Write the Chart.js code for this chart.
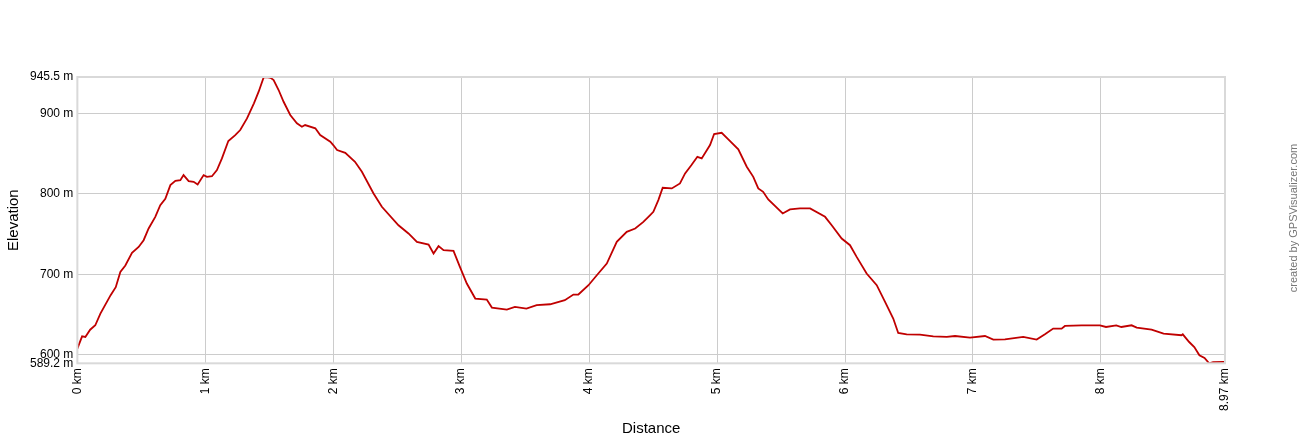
<!DOCTYPE html>
<html>
<head>
<meta charset="utf-8">
<script src="https://cdn.jsdelivr.net/npm/chart.js@4"></script>
<style>
  html, body { margin: 0; padding: 0; background: #fff; }
  #wrap { width: 1300px; height: 440px; }
</style>
</head>
<body>
<div id="wrap"><canvas id="profileChart"></canvas></div>
<script>
const distKm = [
    0, 0.037, 0.0625, 0.1, 0.14, 0.18, 0.26, 0.3, 0.336, 0.375, 0.427, 0.479, 0.518, 0.557,
    0.609, 0.648, 0.6875, 0.727, 0.766, 0.805, 0.83, 0.87, 0.909, 0.94, 0.987, 1.013, 1.052,
    1.091, 1.13, 1.18, 1.234, 1.273, 1.326, 1.38, 1.417, 1.456, 1.48, 1.51, 1.534, 1.573,
    1.612, 1.664, 1.716, 1.755, 1.78, 1.86, 1.898, 1.977, 2.0, 2.03, 2.094, 2.17, 2.224,
    2.315, 2.38, 2.51, 2.588, 2.654, 2.745, 2.784, 2.823, 2.862, 2.94, 2.99, 3.044, 3.11,
    3.2, 3.24, 3.357, 3.42, 3.51, 3.59, 3.695, 3.81, 3.877, 3.916, 3.995, 4.06, 4.138,
    4.216, 4.294, 4.36, 4.424, 4.477, 4.502, 4.541, 4.575, 4.646, 4.71, 4.75, 4.8, 4.846,
    4.88, 4.945, 4.977, 5.036, 5.088, 5.166, 5.232, 5.283, 5.322, 5.36, 5.4, 5.513, 5.57,
    5.648, 5.727, 5.844, 5.896, 5.974, 6.039, 6.091, 6.169, 6.248, 6.313, 6.377, 6.416,
    6.482, 6.586, 6.69, 6.795, 6.86, 6.977, 7.094, 7.159, 7.25, 7.393, 7.498, 7.5625,
    7.627, 7.693, 7.719, 7.849, 7.992, 8.04, 8.12, 8.16, 8.24, 8.28, 8.396, 8.49, 8.63,
    8.64, 8.69, 8.73, 8.77, 8.81, 8.846, 8.877, 8.955, 8.97
];
const elevM = [
    607.5, 622.8, 622, 631, 636.5, 651, 674, 684, 703, 711, 726.6, 734, 742.4, 757,
    771.5, 786, 794, 811, 816.3, 817, 823.4, 816, 815, 811.8, 823.4, 821.3, 822,
    829.6, 844.2, 865.8, 873.2, 879.5, 894, 912.7, 927.2, 945, 945.5, 944.5, 941.7, 929.3,
    914.7, 898.2, 887.8, 883.6, 885.7, 881.6, 873.2, 864.9, 860.8, 854.6, 851.2, 840, 827.5,
    800.6, 784, 761, 750.8, 740.3, 737, 725.9, 735, 730, 729.1, 709.2, 688.5, 669.8,
    668.6, 658.6, 656.1, 659.4, 657.3, 661.5, 662.7, 667.7, 674.8, 674.8, 686.4, 698.8, 713.4,
    740.3, 752.8, 757, 765.2, 773.6, 777.7, 792.3, 807.6, 806.8, 813, 825.5, 835.9, 846.2,
    844.2, 860.8, 874.5, 876.1, 867.9, 855.4, 833.8, 821.3, 806.8, 802.6, 793.1, 775.7, 780.7,
    781.9, 781.9, 771.5, 761.1, 744.5, 736.2, 721.6, 700.9, 686.4, 665.6, 644.9, 627,
    625.3, 625, 622.8, 622, 623.2, 621.2, 623.2, 618.7, 619.1, 622, 618.7, 625.3,
    632.4, 632.4, 635.7, 636.5, 636.5, 634.4, 636.5, 634.4, 636.5, 633.7, 631.2, 626.2, 624.1,
    625.3, 615.7, 609.5, 599.2, 595.8, 589.2, 590.8, 591, 591
];
const xTicks = [0, 1, 2, 3, 4, 5, 6, 7, 8, 8.97];
const yTicks = [589.2, 600, 700, 800, 900, 945.5];

const points = distKm.map(function(d, i) { return { x: d, y: elevM[i] }; });

const frame = {
    id: 'frame',
    afterDraw: function(chart) {
        const ctx = chart.ctx;
        const a = chart.chartArea;
        ctx.save();
        ctx.strokeStyle = '#d9d9d9';
        ctx.lineWidth = 2;
        ctx.strokeRect(a.left, a.top, a.right - a.left, a.bottom - a.top);
        ctx.translate(1294, 218);
        ctx.rotate(-Math.PI / 2);
        ctx.fillStyle = '#777';
        ctx.font = '11px "Liberation Sans", Arial, sans-serif';
        ctx.textAlign = 'center';
        ctx.textBaseline = 'middle';
        ctx.fillText('created by GPSVisualizer.com', 0, 0);
        ctx.restore();
    }
};

const font = { family: '"Liberation Sans", Arial, sans-serif', size: 12 };

new Chart(document.getElementById('profileChart').getContext('2d'), {
    type: 'line',
    data: {
        datasets: [{
            label: 'Elevation',
            data: points,
            borderColor: '#c00000',
            borderWidth: 1.8,
            pointRadius: 0,
            tension: 0,
            fill: false
        }]
    },
    options: {
        responsive: true,
        maintainAspectRatio: false,
        animation: false,
        layout: { padding: { top: 77, right: 75, bottom: 2, left: 2 } },
        plugins: { legend: { display: false }, tooltip: { enabled: false } },
        scales: {
            x: {
                type: 'linear',
                min: 0,
                max: 8.97,
                afterBuildTicks: function(axis) {
                    axis.ticks = xTicks.map(function(v) { return { value: v }; });
                },
                ticks: {
                    autoSkip: false,
                    minRotation: 90,
                    maxRotation: 90,
                    padding: 5,
                    color: '#000',
                    font: font,
                    callback: function(value) { return value + ' km'; }
                },
                grid: { color: '#cccccc', drawTicks: false },
                border: { display: false },
                title: {
                    display: true,
                    text: 'Distance',
                    color: '#000',
                    font: { family: font.family, size: 15 },
                    padding: { top: 4, bottom: 0 }
                }
            },
            y: {
                min: 589.2,
                max: 945.5,
                afterBuildTicks: function(axis) {
                    axis.ticks = yTicks.map(function(v) { return { value: v }; });
                },
                ticks: {
                    autoSkip: false,
                    padding: 4,
                    color: '#000',
                    font: font,
                    callback: function(value) { return value + ' m'; }
                },
                grid: { color: '#cccccc', drawTicks: false },
                border: { display: false },
                title: {
                    display: true,
                    text: 'Elevation',
                    color: '#000',
                    font: { family: font.family, size: 15 },
                    padding: { top: 3, bottom: 3 }
                }
            }
        }
    },
    plugins: [frame]
});
</script>
</body>
</html>
